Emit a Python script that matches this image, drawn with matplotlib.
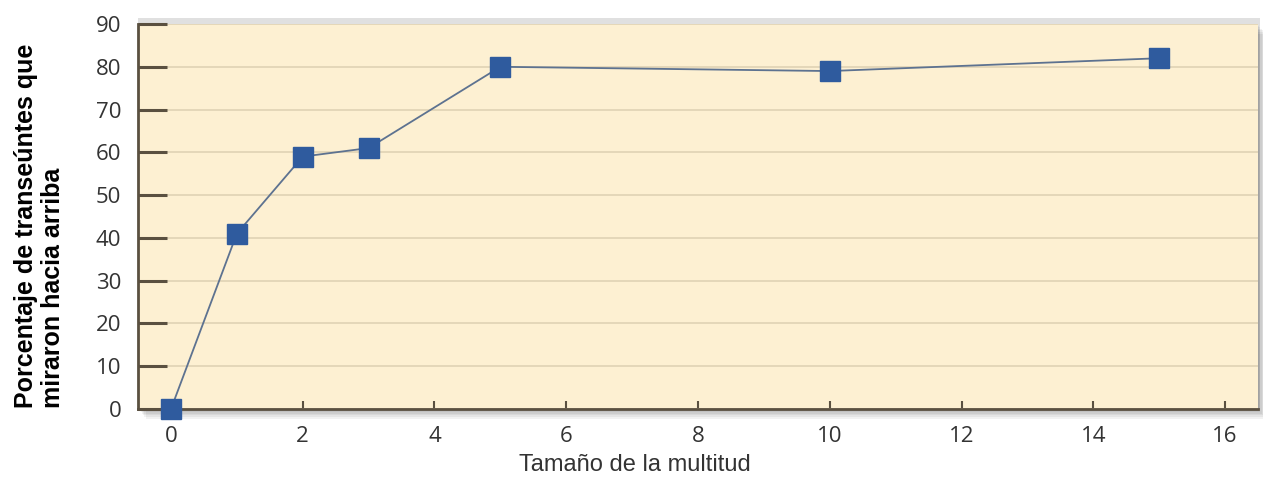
import matplotlib
matplotlib.use("Agg")
import matplotlib.pyplot as plt
from matplotlib.patches import Rectangle

crowd_size = [0, 1, 2, 3, 5, 10, 15]
pct_looked_up = [0, 41, 59, 61, 80, 79, 82]
x_ticks = [0, 2, 4, 6, 8, 10, 12, 14, 16]
y_ticks = [0, 10, 20, 30, 40, 50, 60, 70, 80, 90]
x_label = "Tamaño de la multitud"
y_label = "Porcentaje de transeúntes que\nmiraron hacia arriba"

fig = plt.figure(figsize=(12.63, 4.88), dpi=100)
pos = [0.1093, 0.1619, 0.8867, 0.7889]
ax = fig.add_axes(pos)

# drop shadow
for i in range(6):
    d = (i + 1) * 0.0025
    fig.patches.append(Rectangle((pos[0] + d * 0.4, pos[1] - d * 1.3), pos[2], pos[3],
                                 transform=fig.transFigure, facecolor="black",
                                 alpha=0.05, edgecolor="none", zorder=-5))
fig.patches.append(Rectangle((pos[0], pos[1]), pos[2] + 0.002, pos[3] + 0.012,
                             transform=fig.transFigure, facecolor="black",
                             alpha=0.12, edgecolor="none", zorder=-4))

ax.set_facecolor("#fdf0d2")
ax.set_xlim(-0.5, 16.5)
ax.set_ylim(0, 90)
ax.set_xticks(x_ticks)
ax.set_yticks(y_ticks)
ax.yaxis.grid(True, color="#e0d3b4", linewidth=1.2)
ax.set_axisbelow(True)

for s in ["top", "right"]:
    ax.spines[s].set_visible(False)
for s in ["left", "bottom"]:
    ax.spines[s].set_color("#5a5040")
    ax.spines[s].set_linewidth(2)

ax.tick_params(axis="y", direction="in", length=21, width=2.2, color="#5a5040",
               pad=12, labelsize=16, labelcolor="#333333")
ax.tick_params(axis="x", direction="in", length=6, width=1.5, color="#5a5040",
               pad=12, labelsize=16, labelcolor="#333333")
for lab in ax.get_xticklabels() + ax.get_yticklabels():
    lab.set_fontfamily("Open Sans")

ax.plot(crowd_size, pct_looked_up, color="#5d7290", linewidth=1.3,
        marker="s", markersize=15, markerfacecolor="#2f5b9e",
        markeredgecolor="#2f5b9e", clip_on=False, zorder=5)

fig.text(0.503, 0.048, x_label, ha="center", va="center", fontsize=17,
         family="Liberation Sans", color="#333333")
fig.text(0.031, 0.537, y_label, rotation=90, ha="center", va="center",
         multialignment="left", fontsize=18, fontweight="bold",
         family="Liberation Sans", linespacing=1.15)

fig.savefig("out.png", dpi=100)
